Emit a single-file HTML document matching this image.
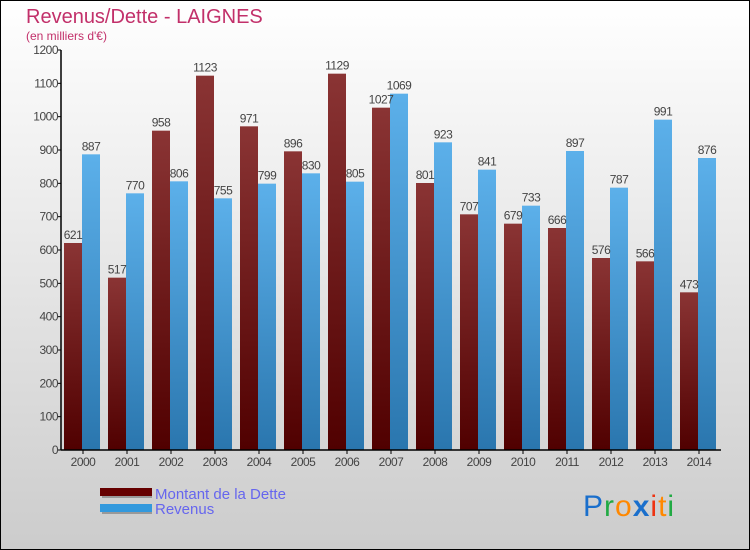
<!DOCTYPE html>
<html><head><meta charset="utf-8"><style>
body{margin:0}
svg{display:block;font-family:"Liberation Sans",sans-serif}
</style></head><body>
<svg id="c" width="750" height="550" xmlns="http://www.w3.org/2000/svg">
<defs>
<linearGradient id="bg" x1="0" y1="0" x2="0" y2="1"><stop offset="0" stop-color="#ffffff"/><stop offset="1" stop-color="#cccccc"/></linearGradient>
<linearGradient id="gd" x1="0" y1="0" x2="0" y2="1"><stop offset="0" stop-color="#8a3434"/><stop offset="1" stop-color="#500000"/></linearGradient>
<linearGradient id="gr" x1="0" y1="0" x2="0" y2="1"><stop offset="0" stop-color="#5cb0ea"/><stop offset="1" stop-color="#2a76ae"/></linearGradient>
</defs>
<rect x="0.5" y="0.5" width="749" height="549" fill="url(#bg)" stroke="#000"/>
<text x="26" y="23" font-size="20" fill="#c2306a">Revenus/Dette - LAIGNES</text>
<text x="26" y="40" font-size="12" fill="#c2306a">(en milliers d'€)</text>
<g id="plot"></g>
<g>
<rect x="102" y="490" width="50" height="8" fill="#999"/>
<rect x="100" y="488" width="52" height="8" fill="#660000"/>
<text x="155" y="499" font-size="15" fill="#6666ee">Montant de la Dette</text>
<rect x="102" y="506" width="50" height="8" fill="#999"/>
<rect x="100" y="504" width="52" height="8" fill="#3399dd"/>
<text x="155" y="514" font-size="15" fill="#6666ee">Revenus</text>
</g>
<g font-size="30" font-family="'Liberation Sans',sans-serif">
<text x="583" y="516" letter-spacing="1"><tspan fill="#1a6fcc">P</tspan><tspan fill="#22aa44">r</tspan><tspan fill="#ff8800">o</tspan><tspan fill="#1a6fcc" font-weight="bold">x</tspan><tspan fill="#ee3311">i</tspan><tspan fill="#ff8800">t</tspan><tspan fill="#22aa44">i</tspan></text>
</g>
</svg>
<script>
const years=["2000","2001","2002","2003","2004","2005","2006","2007","2008","2009","2010","2011","2012","2013","2014"];
const dette=[621,517,958,1123,971,896,1129,1027,801,707,679,666,576,566,473];
const revenus=[887,770,806,755,799,830,805,1069,923,841,733,897,787,991,876];
const yTicks=[0,100,200,300,400,500,600,700,800,900,1000,1100,1200];
const NS="http://www.w3.org/2000/svg";
const g=document.getElementById('plot');
const x0=61,x1=721,y0=450,y1=50,ymax=1200;
const gw=(x1-x0)/years.length;
const Y=v=>y0-(v/ymax)*(y0-y1);
const X=i=>x0+i*gw;
function mk(t,a){const e=document.createElementNS(NS,t);for(const k in a)e.setAttribute(k,a[k]);g.appendChild(e);return e;}
yTicks.forEach(v=>{
 const l=mk('line',{x1:x0-4,x2:x0,y1:Y(v),y2:Y(v),stroke:'#000'});
 
 
 const t=mk('text',{x:x0-3,y:Y(v)+4,'font-size':12,fill:'#444','text-anchor':'end','letter-spacing':'-0.5'});
 t.textContent=v;
 
 
});
years.forEach((yr,i)=>{
 const bx=X(i)+3,bw=18;
 const b1=mk('rect',{x:bx,y:Y(dette[i]),width:bw,height:y0-Y(dette[i]),fill:'url(#gd)'});
 
 
 const b2=mk('rect',{x:bx+bw,y:Y(revenus[i]),width:bw,height:y0-Y(revenus[i]),fill:'url(#gr)'});
 
 
 const t1=mk('text',{x:bx+bw/2,y:Y(dette[i])-4,'font-size':12,fill:'#444','text-anchor':'middle','letter-spacing':'-0.5'});
 t1.textContent=dette[i];
 
 
 const t2=mk('text',{x:bx+bw*1.5,y:Y(revenus[i])-4,'font-size':12,fill:'#444','text-anchor':'middle','letter-spacing':'-0.5'});
 t2.textContent=revenus[i];
 
 
 const tk=mk('line',{x1:X(i)+gw/2,x2:X(i)+gw/2,y1:y0,y2:y0+4,stroke:'#000'});
 
 
 const xl=mk('text',{x:X(i)+gw/2,y:y0+16,'font-size':12,fill:'#444','text-anchor':'middle','letter-spacing':'-0.5'});
 xl.textContent=yr;
 
 
});
const ya=mk('line',{x1:x0,x2:x0,y1:y1,y2:y0,stroke:'#000','stroke-width':1.5});


const xa=mk('line',{x1:x0,x2:x1,y1:y0,y2:y0,stroke:'#000','stroke-width':1.5});


</script>
</body></html>
